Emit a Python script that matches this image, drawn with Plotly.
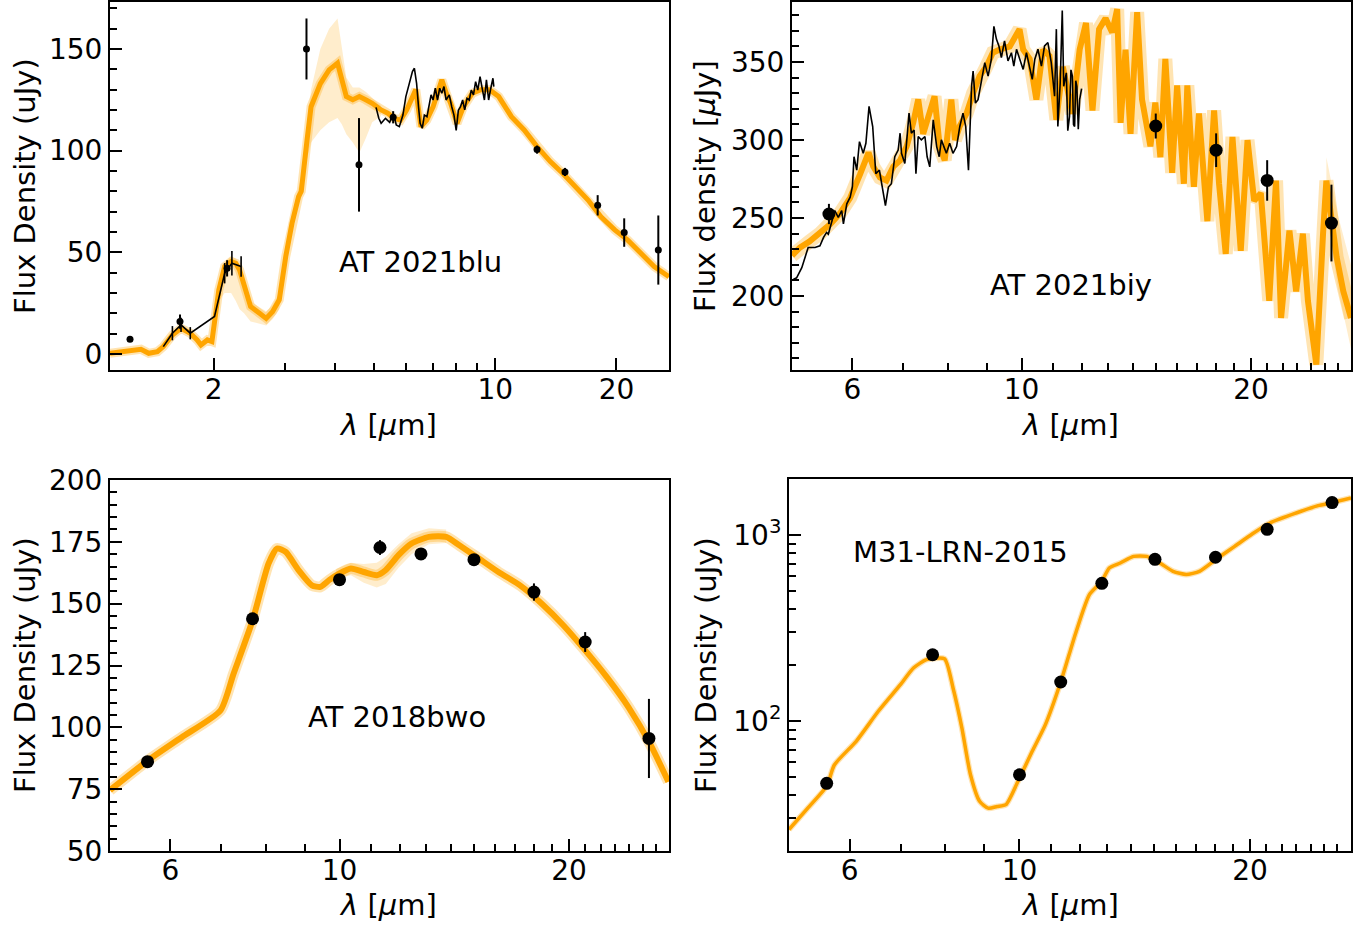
import math
import plotly.graph_objects as go

FONT = "DejaVu Sans"
ORANGE = "#FFA500"
HALO = "rgba(255,165,0,0.30)"
ENVELOPE = "rgba(255,165,0,0.20)"

# ---------------- AT 2021blu ----------------
blu_model_wl = [1.106, 1.20, 1.32, 1.38, 1.45, 1.50, 1.58, 1.66, 1.75, 1.82, 1.86, 1.93, 1.98,
                2.06, 2.13, 2.21, 2.27, 2.32, 2.38, 2.47, 2.60, 2.70, 2.80, 2.91, 3.02, 3.13,
                3.25, 3.30, 3.41, 3.49, 3.68, 3.87, 4.06, 4.16, 4.27, 4.43, 4.60, 4.77, 4.95,
                5.21, 5.41, 5.61, 5.82, 6.03, 6.35, 6.54, 6.76, 7.01, 7.37, 7.56, 7.75, 8.04,
                8.34, 8.77, 9.21, 9.68, 10.2, 10.97, 11.8, 12.7, 13.7, 14.7, 15.8, 17.0, 18.3,
                19.8, 21.3, 23.0, 24.8, 27.0]
blu_model_flux = [0.3, 1.1, 2.3, 0.3, 1.1, 3.6, 9.3, 12.6, 10.2, 6.9, 4.4, 6.9, 6.1,
                  31.5, 43.0, 45.4, 44.6, 41.3, 33.1, 23.3, 20.0, 17.5, 20.8, 26.6, 47.9, 64.3,
                  77.4, 80.0, 105.0, 121.6, 133.0, 139.7, 143.0, 134.8, 126.6, 125.0, 126.6, 125.0, 123.3,
                  120.0, 118.4, 115.9, 115.0, 120.0, 130.0, 111.8, 115.0, 121.6, 134.8, 128.2, 123.3, 113.4,
                  121.6, 128.2, 130.0, 130.0, 126.6, 116.7, 110.2, 102.0, 94.6, 88.9, 82.3, 75.7, 67.5,
                  61.0, 56.1, 49.5, 43.0, 38.0]
blu_band_wl = [1.98, 2.06, 2.13, 2.21, 2.27, 2.32, 2.38, 2.47, 2.60, 2.70, 2.80, 2.91, 3.02, 3.13,
               3.25, 3.30, 3.41, 3.49, 3.68, 3.87, 4.06, 4.16, 4.27, 4.43, 4.60, 4.77, 4.95, 5.21]
blu_band_hi = [7, 33, 45, 48, 47, 44, 36, 26, 23, 21, 24, 30, 52, 68,
               82, 86, 112, 130, 150, 160, 165, 150, 136, 131, 131, 129, 126, 122]
blu_band_lo = [4, 26, 30, 30, 26, 22, 20, 16, 15, 14, 17, 22, 43, 60,
               74, 77, 96, 104, 110, 114, 116, 113, 108, 104, 99, 106, 114, 117]
blu_nir_wl = [1.50, 1.58, 1.66, 1.75, 2.01, 2.13, 2.22, 2.34]
blu_nir_flux = [3.6, 10.2, 14.3, 10.2, 18.4, 39.7, 44.6, 43.0]
blu_nir_err = [0.0, 3.5, 3.5, 3.0, 0.0, 5.0, 6.0, 5.0]
blu_mir_wl = [5.06, 5.14, 5.21, 5.34, 5.47, 5.54, 5.61, 5.68, 5.78, 5.90, 6.00, 6.07, 6.15, 6.23,
              6.30, 6.38, 6.45, 6.51, 6.59, 6.67, 6.77, 6.84, 6.93, 7.01, 7.10, 7.19, 7.28, 7.37,
              7.46, 7.55, 7.69, 7.80, 7.90, 8.00, 8.10, 8.20, 8.30, 8.40, 8.51, 8.62, 8.72, 8.83,
              8.94, 9.05, 9.17, 9.28, 9.40, 9.51, 9.63, 9.75, 9.87, 9.92]
blu_mir_flux = [121.3, 115.9, 113.4, 115.9, 113.9, 116.7, 117.0, 112.6, 111.8, 117.5, 126.6, 130.7, 134.0, 138.9,
                140.5, 133.1, 121.6, 113.4, 111.0, 117.5, 116.7, 121.6, 127.4, 124.9, 130.7, 124.9, 130.7, 128.2,
                131.5, 124.9, 127.4, 121.6, 117.5, 110.0, 119.8, 121.6, 124.9, 120.0, 125.7, 124.9, 129.8, 127.4,
                133.9, 129.8, 136.4, 130.7, 124.9, 134.8, 124.9, 130.7, 135.6, 131.5]
blu_phot_wl = [1.24, 1.65, 2.16, 3.40, 4.59, 5.58, 12.7, 14.9, 17.96, 20.9, 25.4]
blu_phot_flux = [7.2, 15.9, 42.1, 150.0, 93.0, 116.4, 100.5, 89.5, 73.1, 59.7, 51.1]
blu_phot_err = [0.8, 3.5, 4.0, 15.0, 23.0, 3.0, 2.0, 2.0, 5.0, 7.0, 17.0]

# ---------------- AT 2021biy ----------------
biy_model_wl = [5.00, 5.12, 5.27, 5.44, 5.61, 5.78, 5.96, 6.14, 6.30, 6.39, 6.52, 6.65, 6.79,
                6.93, 7.07, 7.21, 7.32, 7.43, 7.58, 7.69, 7.81, 7.93, 8.09, 8.18, 8.30, 8.47,
                8.64, 8.81, 8.99, 9.17, 9.36, 9.65, 9.94, 10.05, 10.25, 10.46, 10.67, 10.88, 11.11,
                11.33, 11.66, 11.92, 12.15, 12.39, 12.64, 12.89, 13.15, 13.35, 13.49, 13.69, 13.90,
                14.18, 14.39, 14.76, 14.98, 15.21, 15.44, 15.76, 16.00, 16.33, 16.50, 16.83, 17.09,
                17.53, 17.89, 18.16, 18.53, 18.91, 19.39, 19.79, 20.19, 20.60, 21.13, 21.57, 21.90,
                22.46, 22.92, 23.39, 23.75, 24.36, 24.86, 25.11, 25.90, 26.43, 27.05]
biy_model_flux = [226, 231, 235, 240, 246, 253, 263, 278, 292, 283, 276, 274, 283,
                  287, 296, 311, 326, 304, 319, 328, 296, 287, 326, 300, 309, 317,
                  330, 341, 347, 356, 358, 360, 371, 358, 352, 326, 358, 354, 313,
                  347, 317, 358, 375, 319, 371, 378, 369, 384, 311, 358, 304,
                  382, 326, 296, 324, 289, 352, 279, 335, 272, 335, 270, 317,
                  248, 319, 272, 227, 302, 229, 300, 261, 266, 197, 274, 186,
                  242, 203, 240, 197, 156, 240, 274, 225, 203, 186]
biy_fan_wl = [25.11, 26.0, 27.05]
biy_fan_hi = [289, 252, 220]
biy_fan_lo = [255, 205, 166]
biy_spec_wl = [5.02, 5.07, 5.15, 5.25, 5.36, 5.44, 5.50, 5.55, 5.58, 5.64, 5.69, 5.75, 5.81, 5.84,
               5.90, 5.96, 6.00, 6.03, 6.08, 6.13, 6.20, 6.25, 6.31, 6.38, 6.44, 6.51, 6.57, 6.63,
               6.69, 6.75, 6.82, 6.89, 6.93, 6.96, 7.03, 7.12, 7.17, 7.23, 7.27, 7.32, 7.39, 7.47,
               7.52, 7.58, 7.66, 7.74, 7.80, 7.85, 7.91, 7.97, 8.05, 8.13, 8.22, 8.30, 8.38, 8.45,
               8.52, 8.60, 8.64, 8.70, 8.77, 8.86, 8.95, 9.04, 9.13, 9.20, 9.27, 9.34, 9.41, 9.50,
               9.60, 9.70, 9.77, 9.85, 9.95, 10.05, 10.15, 10.25, 10.33, 10.41, 10.51, 10.62, 10.72,
               10.83, 10.94, 11.05, 11.11, 11.16, 11.24, 11.31, 11.36, 11.45, 11.50, 11.56, 11.61,
               11.66, 11.70, 11.74, 11.78, 11.82, 11.87, 11.92, 11.99]
biy_spec_flux = [210.6, 211.7, 218.2, 231.1, 231.1, 232.2, 237.6, 240.8, 239.7, 248.3, 254.8, 250.5, 254.8, 246.2,
                 259.1, 263.4, 269.9, 289.3, 280.7, 299.0, 291.5, 297.9, 321.6, 308.7, 278.5, 280.7, 269.9, 258.0,
                 269.9, 272.0, 289.3, 293.6, 304.4, 291.5, 285.0, 317.3, 304.4, 306.5, 278.5, 302.3, 300.1, 302.3,
                 289.3, 282.8, 313.0, 295.8, 289.3, 300.1, 295.8, 291.5, 297.9, 291.5, 295.8, 308.7, 317.3, 308.7,
                 280.7, 334.5, 344.2, 323.7, 325.9, 336.7, 349.6, 341.0, 351.8, 372.9, 364.7, 360.3, 352.8, 363.6,
                 350.7, 356.0, 347.4, 358.2, 351.8, 345.3, 356.0, 347.4, 338.9, 351.8, 358.2, 347.4, 360.3,
                 362.5, 349.6, 328.1, 371.1, 308.7, 336.7, 383.0, 334.5, 343.1, 306.0, 315.1, 345.0,
                 341.0, 310.0, 308.7, 338.0, 334.5, 307.0, 325.9, 333.0]
biy_phot_wl = [5.59, 15.0, 18.0, 21.0, 25.5]
biy_phot_flux = [252.6, 309.0, 293.5, 274.1, 246.8]
biy_phot_err = [6.5, 8.0, 10.8, 13.0, 24.6]

# ---------------- AT 2018bwo ----------------
bwo_model_wl = [5.0, 5.6, 6.21, 6.98, 7.26, 7.69, 8.07, 8.28, 8.50, 8.84, 9.20, 9.44, 9.69, 10.0,
                10.35, 10.76, 11.19, 11.49, 11.95, 12.43, 13.10, 13.80, 14.36, 15.13, 16.16, 17.25,
                18.42, 19.67, 21.0, 22.42, 23.94, 25.56, 27.0]
bwo_model_flux = [74.6, 86.5, 96.0, 106.8, 121.6, 143.2, 166.2, 172.3, 170.9, 163.5, 157.4, 156.8, 159.5, 162.2,
                  164.2, 162.8, 161.5, 163.5, 169.6, 174.3, 177.0, 177.0, 173.6, 168.9, 162.8, 157.4,
                  150.0, 141.2, 131.1, 120.3, 108.1, 93.2, 78.0]
bwo_band_wl = [9.9, 10.35, 10.76, 11.19, 11.5, 11.95, 12.43, 13.1, 13.8]
bwo_band_hi = [164, 166.5, 166, 166.5, 169, 174, 178.5, 180.5, 180]
bwo_band_lo = [160, 161.5, 158.5, 156.5, 158, 164.5, 170, 174, 174.5]
bwo_phot_wl = [5.60, 7.69, 10.0, 11.3, 12.79, 15.01, 17.99, 21.0, 25.46]
bwo_phot_flux = [86.1, 143.9, 159.7, 172.7, 170.1, 167.8, 154.7, 134.5, 95.5]
bwo_phot_err = [1.0, 1.0, 1.0, 3.0, 1.0, 1.0, 3.5, 4.0, 16.0]

# ---------------- M31-LRN-2015 ----------------
m31_model_wl = [5.0, 5.29, 5.60, 5.73, 6.12, 6.54, 6.99, 7.27, 7.56, 7.98, 8.19, 8.41, 8.63, 8.87,
                9.10, 9.35, 9.60, 10.0, 10.39, 10.81, 11.32, 11.86, 12.34, 12.81, 13.10, 13.54,
                14.09, 14.66, 15.25, 15.87, 16.51, 17.18, 18.03, 19.10, 20.13, 21.23, 22.98, 24.55,
                25.6, 27.1]
m31_model_flux = [26.1, 34.0, 44.6, 58.0, 77.8, 112.8, 156.8, 192.6, 213.6, 216.0, 150.0, 91.6, 51.4, 37.0,
                  34.0, 34.7, 35.5, 49.4, 68.7, 95.6, 162.0, 303.0, 478.0, 564.0, 665.0, 707.0,
                  767.0, 767.0, 707.0, 638.0, 613.0, 638.0, 736.0, 869.0, 1012.0, 1160.0, 1313.0, 1438.0,
                  1493.0, 1582.0]
m31_phot_wl = [5.60, 7.70, 10.0, 11.32, 12.81, 15.03, 18.03, 21.06, 25.6]
m31_phot_flux = [46.2, 227.0, 51.4, 162.0, 550.0, 740.0, 759.0, 1073.0, 1493.0]

# ---------------- tick definitions ----------------
blu_xticks = [2, 10, 20]
blu_xminor = [3, 4, 5, 6, 7, 8, 9]
mir_xticks = [6, 10, 20]
mir_xminor = [7, 8, 9, 11, 12, 13, 14, 15, 16, 17, 18, 19, 21, 22, 23, 24, 25, 26]
blu_yticks = [0, 50, 100, 150]
blu_yminor = [10, 20, 30, 40, 60, 70, 80, 90, 110, 120, 130, 140, 160, 170]
biy_yticks = [200, 250, 300, 350]
biy_yminor = [160, 170, 180, 190, 210, 220, 230, 240, 260, 270, 280, 290, 310, 320, 330, 340, 360, 370, 380]
bwo_yticks = [50, 75, 100, 125, 150, 175, 200]
bwo_yminor = [v for v in range(55, 200, 5) if v % 25 != 0]
m31_yticks = [100, 1000]
m31_yticktext = ["10<sup>2</sup>", "10<sup>3</sup>"]
m31_yminor = [30, 40, 50, 60, 70, 80, 90, 200, 300, 400, 500, 600, 700, 800, 900]

fig = go.Figure()


def add_envelope(xa, ya, wl, lo, hi):
    fig.add_trace(go.Scatter(x=list(wl) + list(wl)[::-1], y=list(hi) + list(lo)[::-1],
                             mode="lines", fill="toself", fillcolor=ENVELOPE,
                             line=dict(width=0, color=ENVELOPE), xaxis=xa, yaxis=ya,
                             hoverinfo="skip"))


def add_model(xa, ya, wl, flux, core, halo, shape="linear"):
    fig.add_trace(go.Scatter(x=wl, y=flux, mode="lines",
                             line=dict(color=HALO, width=halo, shape=shape, smoothing=0.6),
                             xaxis=xa, yaxis=ya, hoverinfo="skip"))
    fig.add_trace(go.Scatter(x=wl, y=flux, mode="lines",
                             line=dict(color=ORANGE, width=core, shape=shape, smoothing=0.6),
                             xaxis=xa, yaxis=ya, hoverinfo="skip"))


def add_points(xa, ya, wl, flux, err, size):
    fig.add_trace(go.Scatter(x=wl, y=flux, mode="markers",
                             marker=dict(color="black", size=size),
                             error_y=None if err is None else dict(type="data", array=err, color="black",
                                                                   thickness=2, width=0),
                             xaxis=xa, yaxis=ya))


# panel 1
add_envelope("x", "y", blu_band_wl, blu_band_lo, blu_band_hi)
add_model("x", "y", blu_model_wl, blu_model_flux, 5, 9)
fig.add_trace(go.Scatter(x=blu_nir_wl, y=blu_nir_flux, mode="lines",
                         line=dict(color="black", width=1.6),
                         error_y=dict(type="data", array=blu_nir_err, color="black", thickness=1.6, width=0),
                         xaxis="x", yaxis="y"))
fig.add_trace(go.Scatter(x=blu_mir_wl, y=blu_mir_flux, mode="lines",
                         line=dict(color="black", width=1.6), xaxis="x", yaxis="y"))
add_points("x", "y", blu_phot_wl, blu_phot_flux, blu_phot_err, 7)

# panel 2
add_envelope("x2", "y2", biy_fan_wl, biy_fan_lo, biy_fan_hi)
add_model("x2", "y2", biy_model_wl, biy_model_flux, 6, 14)
fig.add_trace(go.Scatter(x=biy_spec_wl, y=biy_spec_flux, mode="lines",
                         line=dict(color="black", width=1.6), xaxis="x2", yaxis="y2"))
add_points("x2", "y2", biy_phot_wl, biy_phot_flux, biy_phot_err, 13)

# panel 3
add_envelope("x3", "y3", bwo_band_wl, bwo_band_lo, bwo_band_hi)
add_model("x3", "y3", bwo_model_wl, bwo_model_flux, 6, 11, "spline")
add_points("x3", "y3", bwo_phot_wl, bwo_phot_flux, bwo_phot_err, 13)

# panel 4
add_model("x4", "y4", m31_model_wl, m31_model_flux, 3.5, 6, "spline")
add_points("x4", "y4", m31_phot_wl, m31_phot_flux, None, 13)

W, H = 1369, 928


def xdom(l, r):
    return [l / W, r / W]


def ydom(top, bottom):
    return [1 - bottom / H, 1 - top / H]


def minor(vals):
    return dict(tickmode="array", tickvals=vals, ticks="inside", ticklen=7, tickwidth=1.5,
                tickcolor="black", showgrid=False)


def axis(domain, anchor, rng, tickvals, ticktext, minor_vals, log=False, standoff=0):
    return dict(domain=domain, anchor=anchor, type="log" if log else "linear", range=rng,
                automargin=False, ticklabelstandoff=standoff,
                tickmode="array", tickvals=tickvals, ticktext=ticktext,
                showline=True, linecolor="black", linewidth=2, mirror=True,
                ticks="inside", ticklen=12, tickwidth=2, tickcolor="black",
                showgrid=False, zeroline=False,
                tickfont=dict(family=FONT, size=28, color="black"),
                minor=minor(minor_vals))


lg = math.log10
XS = -7
fig.update_layout(
    template="none",
    width=W, height=H, margin=dict(l=0, r=0, t=0, b=0, pad=0), autosize=False,
    paper_bgcolor="white", plot_bgcolor="white", showlegend=False,
    font=dict(family=FONT, color="black"),
    xaxis=axis(xdom(110, 669), "y", [lg(1.106), lg(27.0)], blu_xticks, [str(v) for v in blu_xticks], blu_xminor, True, XS),
    yaxis=axis(ydom(2, 370), "x", [-7.9, 173.1], blu_yticks, [str(v) for v in blu_yticks], blu_yminor),
    xaxis2=axis(xdom(792, 1351), "y2", [lg(5.0), lg(27.05)], mir_xticks, [str(v) for v in mir_xticks], mir_xminor, True, XS),
    yaxis2=axis(ydom(2, 370), "x2", [152.6, 388.5], biy_yticks, [str(v) for v in biy_yticks], biy_yminor),
    xaxis3=axis(xdom(110, 669), "y3", [lg(5.0), lg(27.05)], mir_xticks, [str(v) for v in mir_xticks], mir_xminor, True, XS),
    yaxis3=axis(ydom(480, 851), "x3", [50, 200], bwo_yticks, [str(v) for v in bwo_yticks], bwo_yminor),
    xaxis4=axis(xdom(789, 1351), "y4", [lg(5.0), lg(27.1)], mir_xticks, [str(v) for v in mir_xticks], mir_xminor, True, XS),
    yaxis4=axis(ydom(479, 851), "x4", [lg(20), lg(2000)], m31_yticks, m31_yticktext, m31_yminor, True),
)

TITLE = dict(family=FONT, size=29, color="black")
xlabel = "<i>λ</i> [<i>μ</i>m]"
ann = [
    dict(text="Flux Density (uJy)", x=25 / W, y=1 - 186 / H, textangle=-90),
    dict(text="Flux density [<i>μ</i>Jy]", x=705 / W, y=1 - 186 / H, textangle=-90),
    dict(text="Flux Density (uJy)", x=25 / W, y=1 - 665 / H, textangle=-90),
    dict(text="Flux Density (uJy)", x=706 / W, y=1 - 665 / H, textangle=-90),
    dict(text=xlabel, x=388 / W, y=1 - 425 / H),
    dict(text=xlabel, x=1070 / W, y=1 - 425 / H),
    dict(text=xlabel, x=388 / W, y=1 - 905 / H),
    dict(text=xlabel, x=1070 / W, y=1 - 905 / H),
]
annotations = [dict(a, xref="paper", yref="paper", showarrow=False, xanchor="center",
                    yanchor="middle", font=TITLE) for a in ann]

NAME = dict(family=FONT, size=29, color="black")
for txt, xr, yr, fx, fy in [("AT 2021blu", "x domain", "y domain", 0.5546, 0.2935),
                             ("AT 2021biy", "x2 domain", "y2 domain", 0.499, 0.231),
                             ("AT 2018bwo", "x3 domain", "y3 domain", 0.513, 0.361),
                             ("M31-LRN-2015", "x4 domain", "y4 domain", 0.306, 0.804)]:
    annotations.append(dict(text=txt, xref=xr, yref=yr, x=fx, y=fy, showarrow=False,
                            xanchor="center", yanchor="middle", font=NAME))
fig.update_layout(annotations=annotations)

fig.write_html("out.html")
